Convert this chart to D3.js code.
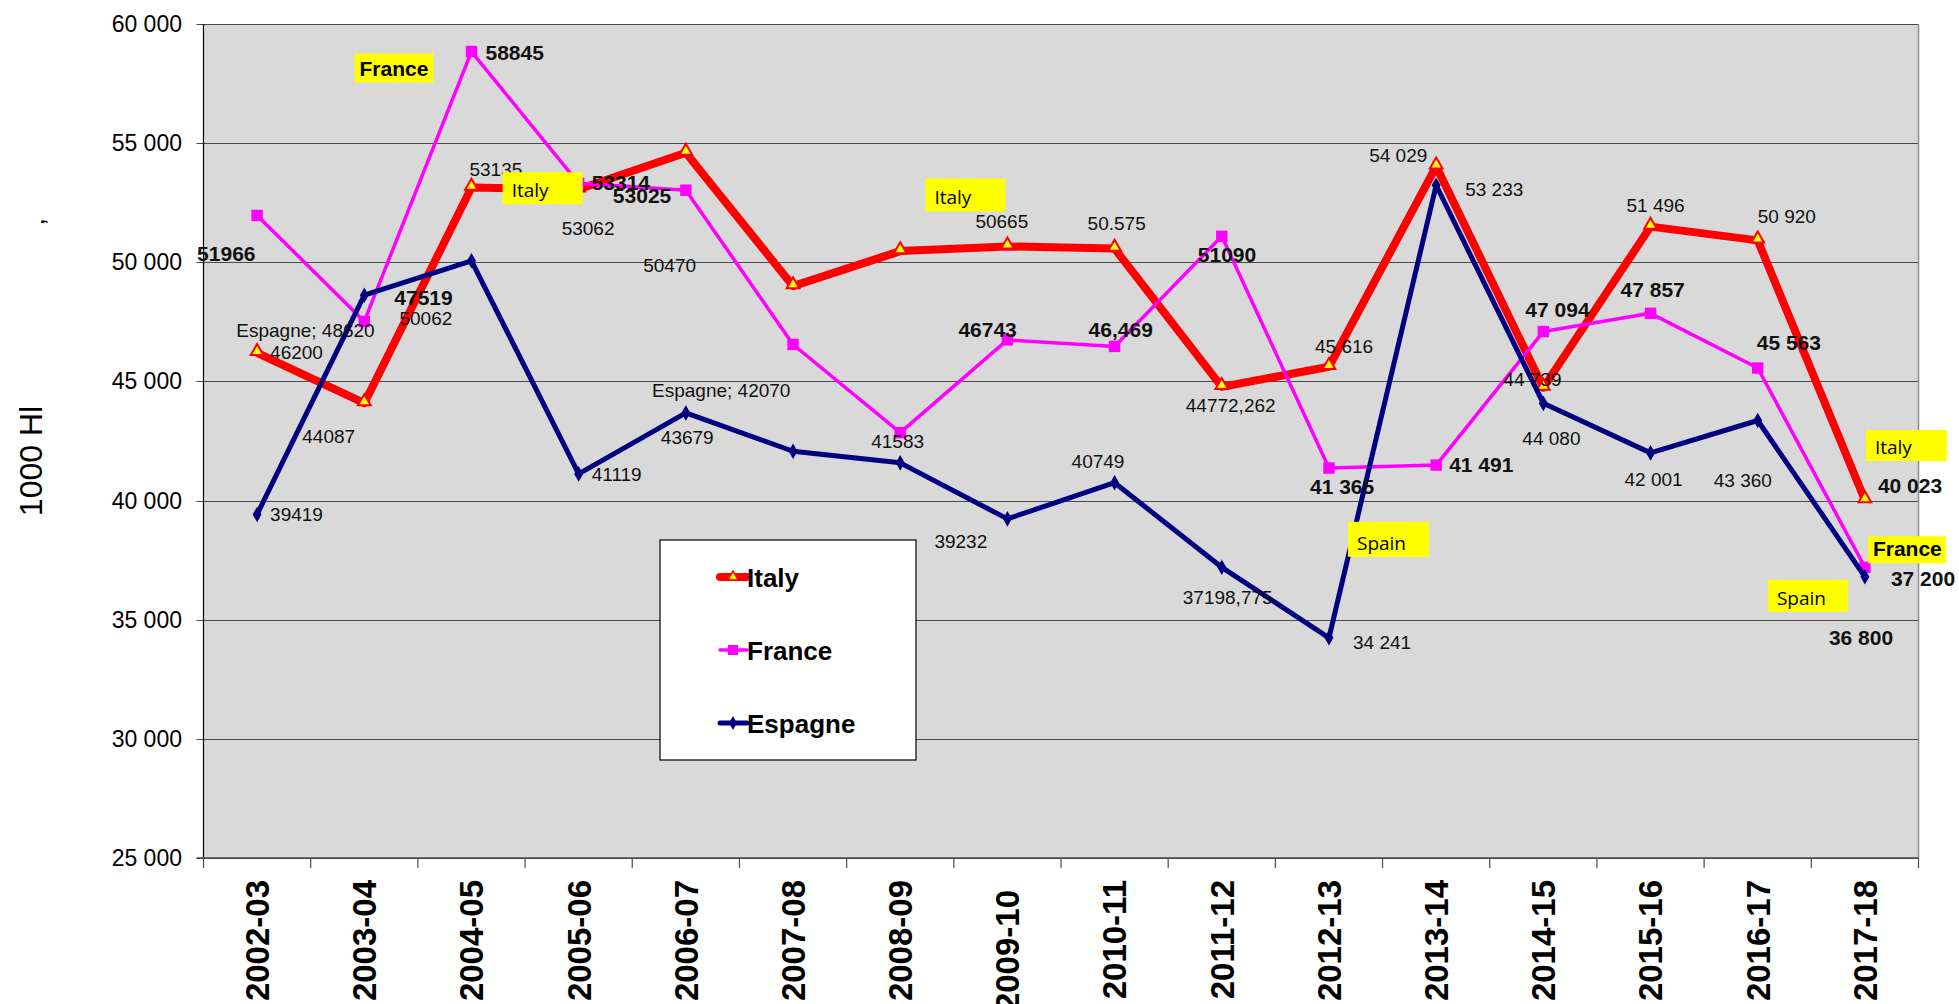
<!DOCTYPE html>
<html>
<head>
<meta charset="utf-8">
<script src="https://cdn.jsdelivr.net/npm/d3@7"></script>
<style>
  body { margin: 0; background: #fff; }
  svg { display: block; font-family: "Liberation Sans", Arial, sans-serif; }
</style>
</head>
<body>
<svg id="chart" width="1959" height="1004"></svg>
<script>
"use strict";

var seasons = ["2002-03", "2003-04", "2004-05", "2005-06", "2006-07", "2007-08", "2008-09", "2009-10",
  "2010-11", "2011-12", "2012-13", "2013-14", "2014-15", "2015-16", "2016-17", "2017-18"];

var italy = [46200, 44087, 53135, 53062, 54600, 49000, 50470, 50665, 50575, 44772.262, 45616, 54029, 44739, 51496, 50920, 40023];
var france = [51966, 47519, 58845, 53314, 53025, 46550, 42850, 46743, 46469, 51090, 41365, 41491, 47094, 47857, 45563, 37200];
var espagne = [39419, 48620, 50062, 41119, 43679, 42070, 41583, 39232, 40749, 37198.775, 34241, 53233, 44080, 42001, 43360, 36800];

// data labels as they were typed in the sheet (null = none shown)
var italyLabels = ["46200", "44087", "53135", "53062", null, null, "50470", "50665", "50.575", "44772,262",
  "45 616", "54 029", "44 739", "51 496", "50 920", "40 023"];
var franceLabels = ["51966", "47519", "58845", "53314", "53025", null, null, "46743", "46,469", "51090",
  "41 365", "41 491", "47 094", "47 857", "45 563", "37 200"];
var espagneLabels = ["39419", "Espagne; 48620", "50062", "41119", "43679", "Espagne; 42070", "41583", "39232",
  "40749", "37198,775", "34 241", "53 233", "44 080", "42 001", "43 360", "36 800"];

var yTicks = [25000, 30000, 35000, 40000, 45000, 50000, 55000, 60000];

// label offsets from their point (px), dragged around by hand in the original
var italyOffsets = [[13, 6], [-62, 40], [-2, -12], [-17, 46], null, null, [-257, 21], [-32, -18], [-27, -19],
  [-36, 25], [-14, -14], [-67, -4], [-40, -2], [-24, -15], [0, -17], [13, -7]];
var franceOffsets = [[-60, 46], [30, -16], [14, 8], [13, 7], [-73, 13], null, null, [-49, -3], [-26, -9],
  [-24, 26], [-19, 26], [13, 7], [-18, -15], [-30, -16], [-1, -18], [26, 19]];
var espagneOffsets = [[13, 7], [-128, 42], [-72, 64], [13, 7], [-25, 31], [-141, -54], [-29, -15], [-73, 29],
  [-43, -15], [-39, 37], [24, 11], [29, 11], [-21, 42], [-26, 33], [-44, 66], [-36, 68]];

var colors = { italy: "#ff0000", france: "#ff00ff", espagne: "#000080" };

var svg = d3.select("#chart");
var plotLeft = 203.5, plotRight = 1918.5, plotTop = 24, plotBottom = 858;

var x = d3.scalePoint().domain(seasons).range([plotLeft, plotRight]).padding(0.5);
var y = d3.scaleLinear().domain([25000, 60000]).range([plotBottom, plotTop]);
var step = x.step();

var fmt = d3.formatLocale({ decimal: ",", thousands: " ", grouping: [3], currency: ["", ""] }).format(",");

// plot area
svg.append("rect")
  .attr("x", plotLeft)
  .attr("y", plotTop)
  .attr("width", plotRight - plotLeft)
  .attr("height", plotBottom - plotTop)
  .style("fill", "#d9d9d9");

svg.append("g").selectAll("line.grid")
  .data(yTicks)
  .enter().append("line")
  .attr("class", "grid")
  .attr("x1", plotLeft - 7)
  .attr("x2", plotRight)
  .attr("y1", function (d) { return Math.round(y(d)) + 0.5; })
  .attr("y2", function (d) { return Math.round(y(d)) + 0.5; })
  .style("stroke", "#4a4a4a")
  .style("stroke-width", 1.2);

svg.append("line")
  .attr("x1", plotRight).attr("x2", plotRight)
  .attr("y1", plotTop).attr("y2", plotBottom)
  .style("stroke", "#8c8c8c")
  .style("stroke-width", 1.5);

svg.append("line")
  .attr("x1", plotLeft).attr("x2", plotLeft)
  .attr("y1", plotTop).attr("y2", plotBottom)
  .style("stroke", "#000")
  .style("stroke-width", 1.2);

svg.append("line")
  .attr("x1", plotLeft - 7).attr("x2", plotRight)
  .attr("y1", plotBottom).attr("y2", plotBottom)
  .style("stroke", "#4a4a4a")
  .style("stroke-width", 1.5);

// y tick labels
svg.append("g").selectAll("text")
  .data(yTicks)
  .enter().append("text")
  .attr("x", 182)
  .attr("y", function (d) { return y(d) + 8; })
  .attr("text-anchor", "end")
  .style("font-size", "23px")
  .style("fill", "#000")
  .text(function (d) { return fmt(d); });

// x ticks sit between categories
var boundaries = seasons.map(function (s) { return x(s) - step / 2; });
boundaries.push(x(seasons[seasons.length - 1]) + step / 2);
svg.append("g").selectAll("line")
  .data(boundaries)
  .enter().append("line")
  .attr("x1", function (d) { return d; })
  .attr("x2", function (d) { return d; })
  .attr("y1", plotBottom)
  .attr("y2", plotBottom + 10)
  .style("stroke", "#4a4a4a")
  .style("stroke-width", 1.2);

svg.append("g").selectAll("text")
  .data(seasons)
  .enter().append("text")
  .attr("transform", function (d) {
    var shift = d === "2009-10" ? 10 : 0;
    return "translate(" + x(d) + "," + (880 + shift) + ") rotate(-90)";
  })
  .attr("text-anchor", "end")
  .attr("dy", "0.36em")
  .style("font-size", "33px")
  .style("font-weight", 700)
  .text(function (d) { return d; });

// axis title
svg.append("text")
  .attr("transform", "translate(42,461) rotate(-90)")
  .attr("text-anchor", "middle")
  .style("font-size", "32px")
  .text("1000 Hl");
svg.append("text")
  .attr("transform", "translate(44,222) rotate(-90)")
  .attr("text-anchor", "middle")
  .style("font-size", "26px")
  .text(",");

var line = d3.line()
  .x(function (d, i) { return x(seasons[i]); })
  .y(function (d) { return y(d); });

function drawSeries(values, color, width, symbol, size, fill, stroke) {
  var g = svg.append("g");
  g.append("path")
    .datum(values)
    .attr("d", line)
    .style("fill", "none")
    .style("stroke", color)
    .style("stroke-width", width)
    .style("stroke-linejoin", "round");
  g.selectAll("path.marker")
    .data(values)
    .enter().append("path")
    .attr("class", "marker")
    .attr("d", d3.symbol().type(symbol).size(size))
    .attr("transform", function (d, i) {
      var dy = symbol === d3.symbolTriangle ? 1.5 : 0;
      return "translate(" + x(seasons[i]) + "," + (y(d) - dy) + ")";
    })
    .style("fill", fill)
    .style("stroke", stroke || "none")
    .style("stroke-width", 2);
}

drawSeries(italy, colors.italy, 8, d3.symbolTriangle, 70, "#ffff00", colors.italy);
drawSeries(france, colors.france, 3.5, d3.symbolSquare, 130, colors.france);
drawSeries(espagne, colors.espagne, 5, d3.symbolDiamond, 70, colors.espagne);

// data labels
function drawLabels(values, labels, offsets, boldTest) {
  var items = [];
  values.forEach(function (v, i) {
    if (labels[i] === null) return;
    items.push({ i: i, v: v, text: labels[i], off: offsets[i] });
  });
  svg.append("g").selectAll("text")
    .data(items)
    .enter().append("text")
    .attr("x", function (d) { return x(seasons[d.i]) + d.off[0]; })
    .attr("y", function (d) { return y(d.v) + d.off[1]; })
    .style("font-size", function (d) { return boldTest(d) ? "21px" : "19px"; })
    .style("font-weight", function (d) { return boldTest(d) ? 700 : 400; })
    .style("fill", "#111")
    .text(function (d) { return d.text; });
}

drawLabels(italy, italyLabels, italyOffsets, function (d) { return d.i === 15; });
drawLabels(france, franceLabels, franceOffsets, function () { return true; });
drawLabels(espagne, espagneLabels, espagneOffsets, function (d) { return d.i === 15; });

// yellow series tags, pinned next to a point of each series
var series = { italy: italy, france: france, espagne: espagne };
var tags = [
  { text: "France", s: "france", i: 2, dx: -117, dy: 2, w: 79, h: 29, bold: true },
  { text: "Italy", s: "italy", i: 3, dx: -76, dy: -17, w: 80, h: 32 },
  { text: "Italy", s: "italy", i: 7, dx: -82, dy: -68, w: 80, h: 33 },
  { text: "Spain", s: "espagne", i: 10, dx: 19, dy: -116, w: 81, h: 35 },
  { text: "Italy", s: "italy", i: 15, dx: 1, dy: -70, w: 81, h: 31 },
  { text: "France", s: "france", i: 15, dx: 3, dy: -31, w: 78, h: 27, bold: true },
  { text: "Spain", s: "espagne", i: 15, dx: -97, dy: 3, w: 80, h: 32 }
];

var tagG = svg.append("g").selectAll("g")
  .data(tags)
  .enter().append("g")
  .attr("transform", function (d) {
    return "translate(" + (x(seasons[d.i]) + d.dx) + "," + (y(series[d.s][d.i]) + d.dy) + ")";
  });
tagG.append("rect")
  .attr("width", function (d) { return d.w; })
  .attr("height", function (d) { return d.h; })
  .style("fill", "#ffff00");
tagG.append("text")
  .attr("x", function (d) { return d.bold ? 5 : 9; })
  .attr("y", function (d) { return d.h - 7; })
  .style("font-family", function (d) { return d.bold ? null : "'Open Sans', 'Noto Sans', sans-serif"; })
  .style("font-size", function (d) { return d.bold ? "21px" : "19px"; })
  .style("font-weight", function (d) { return d.bold ? 700 : 400; })
  .text(function (d) { return d.text; });

// legend
var legend = svg.append("g").attr("transform", "translate(660,540)");
legend.append("rect")
  .attr("width", 256)
  .attr("height", 220)
  .style("fill", "#fff")
  .style("stroke", "#000")
  .style("stroke-width", 1.2);

var legendItems = [
  { name: "Italy", color: colors.italy, width: 8, symbol: d3.symbolTriangle, size: 45, fill: "#ffff00", stroke: colors.italy },
  { name: "France", color: colors.france, width: 3.5, symbol: d3.symbolSquare, size: 100, fill: colors.france },
  { name: "Espagne", color: colors.espagne, width: 5, symbol: d3.symbolDiamond, size: 55, fill: colors.espagne }
];

var items = legend.selectAll("g.item")
  .data(legendItems)
  .enter().append("g")
  .attr("class", "item")
  .attr("transform", function (d, i) { return "translate(0," + (37 + i * 73) + ")"; });
items.append("line")
  .attr("x1", 60).attr("x2", 87)
  .style("stroke", function (d) { return d.color; })
  .style("stroke-width", function (d) { return d.width; })
  .style("stroke-linecap", "round");
items.append("path")
  .attr("d", function (d) { return d3.symbol().type(d.symbol).size(d.size)(); })
  .attr("transform", "translate(73,0)")
  .style("fill", function (d) { return d.fill; })
  .style("stroke", function (d) { return d.stroke || "none"; })
  .style("stroke-width", 1.5);
items.append("text")
  .attr("x", 87)
  .attr("y", 10)
  .style("font-size", "26px")
  .style("font-weight", 700)
  .text(function (d) { return d.name; });
</script>
</body>
</html>
